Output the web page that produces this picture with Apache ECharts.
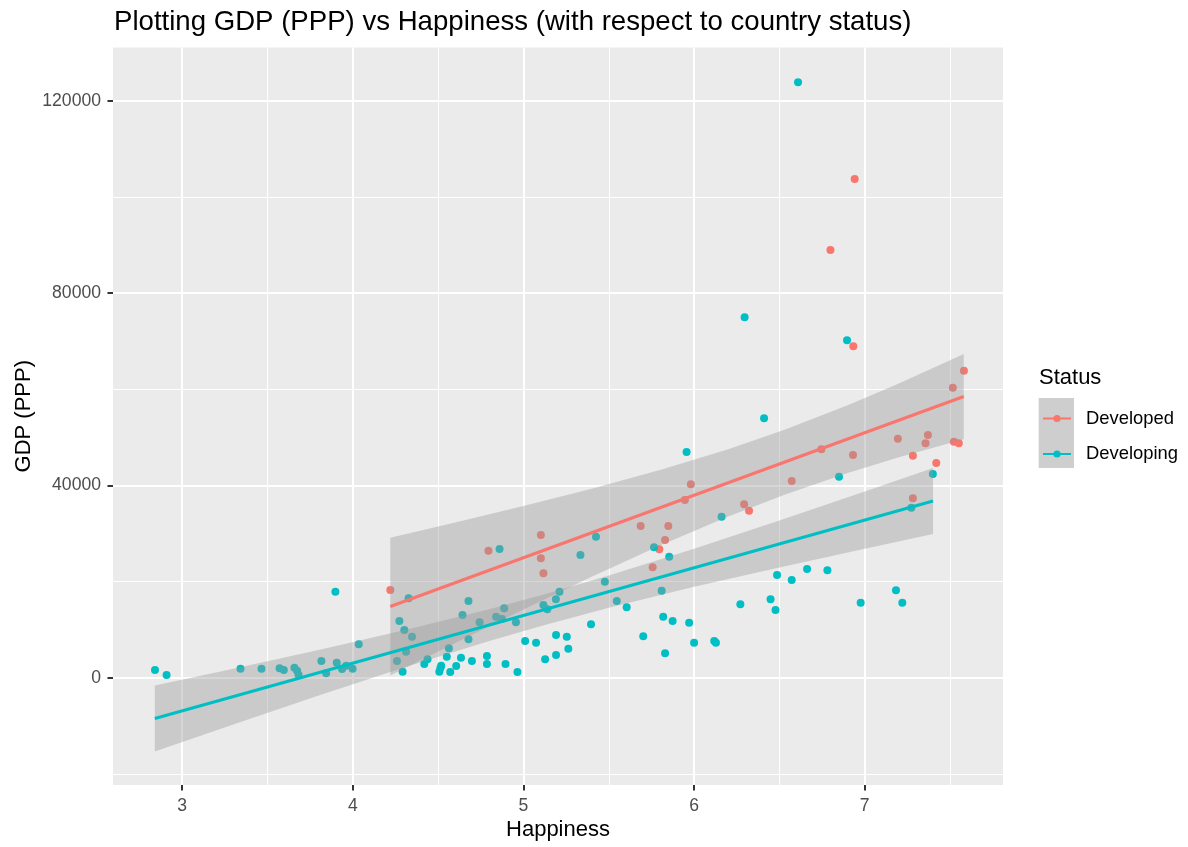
<!DOCTYPE html>
<html>
<head>
<meta charset="utf-8">
<script src="https://cdn.jsdelivr.net/npm/echarts@6/dist/echarts.min.js"></script>
<style>
html,body{margin:0;padding:0;background:#fff;}
#chart{width:1188px;height:847px;}
</style>
</head>
<body>
<div id="chart"></div>
<script>
// ---- Data ----
const devHappiness = [4.22, 4.795, 5.102, 5.102, 5.117, 5.687, 5.849, 5.83, 5.796, 5.757, 5.981, 5.946, 6.293, 6.322, 6.572, 6.746, 6.931, 6.799, 6.941, 6.933, 7.194, 7.282, 7.282, 7.356, 7.37, 7.419, 7.516, 7.522, 7.551, 7.581];
const devGDP = [18250, 26430, 29690, 24840, 21720, 31570, 31570, 28650, 26720, 22970, 40240, 36980, 36080, 34750, 40930, 47520, 46340, 88990, 103770, 68960, 49730, 46190, 37330, 48770, 50500, 44670, 60340, 49110, 48770, 63880];

const dvgHappiness = [2.841, 2.909, 3.342, 3.465, 3.571, 3.596, 3.658, 3.674, 3.682, 3.816, 3.844, 3.898, 3.906, 3.937, 3.961, 3.999, 4.035, 4.259, 4.273, 4.292, 4.302, 4.312, 4.327, 4.347, 4.419, 4.438, 4.507, 4.513, 4.518, 4.551, 4.563, 4.571, 4.606, 4.634, 4.643, 4.678, 4.678, 4.698, 4.743, 4.786, 4.786, 4.84, 4.86, 4.874, 4.887, 4.895, 4.956, 4.965, 5.01, 5.074, 5.117, 5.127, 5.14, 5.19, 5.191, 5.191, 5.211, 5.254, 5.263, 5.334, 5.396, 5.425, 5.477, 5.547, 5.605, 5.702, 5.765, 5.81, 5.819, 5.83, 5.854, 5.874, 5.956, 5.971, 6.0, 6.118, 6.128, 6.161, 6.271, 6.296, 6.41, 6.448, 6.477, 6.486, 6.572, 6.609, 6.662, 6.781, 6.849, 6.896, 6.976, 7.183, 7.22, 7.273, 7.399];
const dvgGDP = [1600, 560, 1870, 1870, 1960, 1600, 2080, 1460, 620, 3480, 920, 17890, 3120, 1810, 2500, 1870, 6950, 3480, 11800, 1250, 9930, 5410, 16520, 8530, 2850, 3830, 1250, 1960, 2500, 4370, 6120, 1190, 2430, 4160, 13050, 15960, 7990, 3480, 11530, 4520, 2850, 12690, 26780, 12210, 14440, 2850, 11530, 1190, 7640, 7280, 15130, 3830, 14230, 16310, 8890, 4720, 17890, 8530, 6030, 25530, 11110, 29340, 19980, 15960, 14650, 8610, 27130, 18100, 12690, 5080, 25180, 11800, 46960, 11440, 7280, 7640, 7280, 33500, 15270, 74990, 53970, 16310, 14090, 21370, 20330, 123890, 22620, 22350, 41820, 70200, 15610, 18190, 15610, 35370, 42390];

// fitted lines (endpoints)
const devFitX = [4.22, 7.58];
const devFitY = [14800, 58500];
const dvgFitX = [2.84, 7.40];
const dvgFitY = [-8500, 36750];

// confidence ribbons (edges)
const devBandX  = [4.22, 4.6, 5.0, 5.4, 5.8, 6.2, 6.53, 6.9, 7.2, 7.58];
const devBandLo = [460, 7200, 14180, 20990, 27500, 33560, 38090, 42610, 45870, 49630];
const devBandHi = [29140, 32290, 35710, 39310, 43200, 47540, 51600, 56710, 61240, 67370];
const dvgBandX  = [2.84, 3.3, 3.8, 4.3, 4.8, 5.12, 5.5, 6.0, 6.5, 7.0, 7.4];
const dvgBandLo = [-15360, -9740, -3730, 2120, 7640, 10930, 14540, 18900, 22950, 26840, 29890];
const dvgBandHi = [-1640, 1870, 5780, 9860, 14260, 17320, 21250, 26820, 32690, 38720, 43610];

// axis ticks
const xMajor = [3, 4, 5, 6, 7];
const xMinor = [3.5, 4.5, 5.5, 6.5, 7.5];
const yMajor = [0, 40000, 80000, 120000];
const yMinor = [-20000, 20000, 60000, 100000];

// ---- Build ----
const zip = (a, b) => a.map((v, i) => [v, b[i]]);
const FONT = "'Liberation Sans', Arial, sans-serif";
const RED = '#F8766D', TEAL = '#00BFC4';
const RIBBON = 'rgba(153,153,153,0.4)';
const X_MIN = 2.595, X_MAX = 7.81, Y_MIN = -22330, Y_MAX = 131130;

function bandSeries(id, xs, lo, hi, z) {
  // one polygon per ribbon: upper edge left->right, lower edge right->left
  const data = xs.map((x, i) => [x, lo[i], hi[i]]);
  return {
    name: id, type: 'custom', data: data, silent: true, z: z,
    encode: { x: 0, y: [1, 2] },
    renderItem: function (params, api) {
      if (params.dataIndex !== 0) return null;
      const upper = data.map(d => api.coord([d[0], d[2]]));
      const lower = data.slice().reverse().map(d => api.coord([d[0], d[1]]));
      return { type: 'polygon', shape: { points: upper.concat(lower) }, style: { fill: RIBBON } };
    }
  };
}

const chart = echarts.init(document.getElementById('chart'), null, { renderer: 'canvas' });
const option = {
  animation: false,
  backgroundColor: '#ffffff',
  textStyle: { fontFamily: FONT },
  title: [
    { text: 'Plotting GDP (PPP) vs Happiness (with respect to country status)', left: 114, top: 8, padding: 0,
      textStyle: { fontSize: 27.6, fontWeight: 'normal', color: '#000', fontFamily: FONT } },
    { text: 'Status', left: 1039, top: 367, padding: 0,
      textStyle: { fontSize: 22, fontWeight: 'normal', color: '#000', fontFamily: FONT } }
  ],
  grid: { left: 113, right: 185, top: 47.5, bottom: 62, show: true, backgroundColor: '#EBEBEB', borderWidth: 0, containLabel: false },
  legend: {
    data: ['Developed', 'Developing'], orient: 'vertical', left: 1042, top: 409.5, padding: 0,
    itemWidth: 28, itemHeight: 9, itemGap: 17.5,
    textStyle: { fontSize: 18.4, color: '#000', fontFamily: FONT, padding: [0, 0, 0, 10] },
    selectedMode: false
  },
  graphic: [
    { type: 'rect', left: 1038.7, top: 398, shape: { width: 35.3, height: 70 }, style: { fill: '#CECECE' }, z: 0 }
  ],
  xAxis: [
    { type: 'value', min: X_MIN, max: X_MAX, position: 'bottom',
      name: 'Happiness', nameLocation: 'middle', nameGap: 34, nameMoveOverlap: false,
      nameTextStyle: { fontSize: 22, color: '#000', fontFamily: FONT },
      axisLine: { show: false, onZero: false },
      axisTick: { show: true, length: 5.5, customValues: xMajor, lineStyle: { color: '#333333', width: 2 } },
      axisLabel: { customValues: xMajor, fontSize: 17.6, color: '#4D4D4D', margin: 12, fontFamily: FONT },
      splitLine: { show: true, lineStyle: { color: '#FFFFFF', width: 2.1 } } },
    { type: 'value', min: X_MIN, max: X_MAX, position: 'bottom', gridIndex: 0,
      axisLine: { show: false, onZero: false }, axisLabel: { show: false },
      axisTick: { show: false, customValues: xMinor },
      splitLine: { show: true, lineStyle: { color: '#FFFFFF', width: 1.07 } } }
  ],
  yAxis: [
    { type: 'value', min: Y_MIN, max: Y_MAX, position: 'left',
      name: 'GDP (PPP)', nameLocation: 'middle', nameGap: 78, nameMoveOverlap: false,
      nameTextStyle: { fontSize: 22, color: '#000', fontFamily: FONT },
      axisLine: { show: false, onZero: false },
      axisTick: { show: true, length: 5.5, customValues: yMajor, lineStyle: { color: '#333333', width: 2 } },
      axisLabel: { customValues: yMajor, fontSize: 17.6, color: '#4D4D4D', margin: 12, fontFamily: FONT,
        formatter: v => String(v) },
      splitLine: { show: true, lineStyle: { color: '#FFFFFF', width: 2.1 } } },
    { type: 'value', min: Y_MIN, max: Y_MAX, position: 'left', gridIndex: 0,
      axisLine: { show: false, onZero: false }, axisLabel: { show: false },
      axisTick: { show: false, customValues: yMinor },
      splitLine: { show: true, lineStyle: { color: '#FFFFFF', width: 1.07 } } }
  ],
  series: [
    { name: 'Developed', type: 'line', data: zip(devFitX, devFitY), symbol: 'circle', showSymbol: false,
      itemStyle: { color: RED }, lineStyle: { color: RED, width: 3.2 }, z: 4, silent: true },
    { name: 'Developing', type: 'line', data: zip(dvgFitX, dvgFitY), symbol: 'circle', showSymbol: false,
      itemStyle: { color: TEAL }, lineStyle: { color: TEAL, width: 3.2 }, z: 6, silent: true },
    { name: 'Developed points', type: 'scatter', data: zip(devHappiness, devGDP), symbolSize: 8,
      itemStyle: { color: RED, opacity: 1 }, z: 2 },
    { name: 'Developing points', type: 'scatter', data: zip(dvgHappiness, dvgGDP), symbolSize: 8,
      itemStyle: { color: TEAL, opacity: 1 }, z: 2 },
    bandSeries('devBand', devBandX, devBandLo, devBandHi, 3),
    bandSeries('dvgBand', dvgBandX, dvgBandLo, dvgBandHi, 5)
  ]
};
chart.setOption(option);
</script>
</body>
</html>
